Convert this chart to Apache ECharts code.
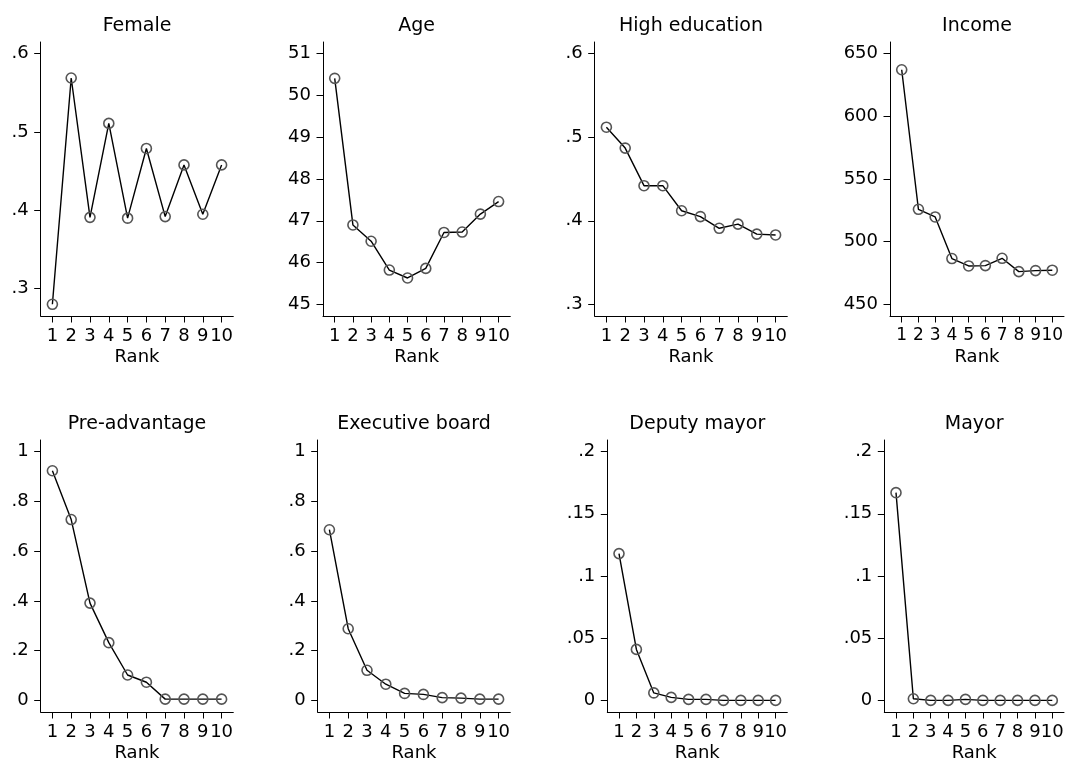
<!DOCTYPE html>
<html><head><meta charset="utf-8">
<script src="https://cdn.jsdelivr.net/npm/echarts@6/dist/echarts.min.js"></script>
<style>html,body{margin:0;padding:0;background:#fff}#c{width:1067px;height:763px}</style>
</head><body><div id="c"></div>
<script>
// ---- data ----
const titles = ['Female', 'Age', 'High education', 'Income', 'Pre-advantage', 'Executive board', 'Deputy mayor', 'Mayor'];
const ranks = [1, 2, 3, 4, 5, 6, 7, 8, 9, 10];
const xAxisTitle = 'Rank';

const female         = [0.280, 0.569, 0.391, 0.511, 0.390, 0.479, 0.392, 0.458, 0.395, 0.458];
const age            = [50.41, 46.90, 46.51, 45.82, 45.63, 45.86, 46.72, 46.73, 47.16, 47.46];
const highEducation  = [0.512, 0.487, 0.442, 0.442, 0.412, 0.405, 0.391, 0.396, 0.384, 0.383];
const income         = [637.2, 525.8, 519.7, 486.5, 480.6, 480.9, 486.7, 476.1, 476.9, 477.2];
const preAdvantage   = [0.923, 0.727, 0.391, 0.232, 0.102, 0.073, 0.005, 0.005, 0.005, 0.005];
const executiveBoard = [0.686, 0.288, 0.121, 0.065, 0.028, 0.024, 0.011, 0.009, 0.005, 0.005];
const deputyMayor    = [0.118, 0.041, 0.006, 0.0024, 0.0008, 0.0008, 0, 0, 0, 0];
const mayor          = [0.167, 0.0013, 0, 0, 0.0008, 0, 0, 0, 0, 0];

const femaleTicks         = [0.3, 0.4, 0.5, 0.6];
const ageTicks            = [45, 46, 47, 48, 49, 50, 51];
const highEducationTicks  = [0.3, 0.4, 0.5, 0.6];
const incomeTicks         = [450, 500, 550, 600, 650];
const preAdvantageTicks   = [0, 0.2, 0.4, 0.6, 0.8, 1];
const executiveBoardTicks = [0, 0.2, 0.4, 0.6, 0.8, 1];
const deputyMayorTicks    = [0, 0.05, 0.1, 0.15, 0.2];
const mayorTicks          = [0, 0.05, 0.1, 0.15, 0.2];

const seriesValues = [female, age, highEducation, income, preAdvantage, executiveBoard, deputyMayor, mayor];
const seriesTicks = [femaleTicks, ageTicks, highEducationTicks, incomeTicks, preAdvantageTicks, executiveBoardTicks, deputyMayorTicks, mayorTicks];

// ---- layout ----
const gridLeft  = [40.7, 323, 594.7, 890, 40.7, 317.7, 607.3, 884.3];
const gridRight = [233.3, 510.3, 787.3, 1064, 233.3, 510.3, 787.3, 1064];
const rowTop = [42, 440];
const plotH = 274;
const titleTop = [17, 415];
const PAD = 11.7; // plot-region margin in px
const FONT = 'DejaVu Sans';

const fmt = v => String(+v.toFixed(6)).replace(/^0\./, '.').replace(/^-0\./, '-.');

const option = { animation: false, backgroundColor: '#fff', title: [], grid: [], xAxis: [], yAxis: [], series: [] };

for (let i = 0; i < 8; i++) {
  const row = i < 4 ? 0 : 1;
  const L = gridLeft[i], W = gridRight[i] - gridLeft[i];
  const T = rowTop[row], H = plotH;
  const vals = seriesValues[i], ticks = seriesTicks[i];
  const lo = Math.min(...vals, ...ticks), hi = Math.max(...vals, ...ticks);
  const yPad = (hi - lo) * PAD / (H - 2 * PAD);
  const xLo = Math.min(...ranks), xHi = Math.max(...ranks);
  const xPad = (xHi - xLo) * PAD / (W - 2 * PAD);
  const step = (W - 2 * PAD) / (xHi - xLo);
  const xFont = step < 17.3 ? 17 : 18;

  option.title.push({
    text: titles[i], left: L + W / 2, top: titleTop[row], textAlign: 'center', padding: 0,
    textStyle: { fontFamily: FONT, fontSize: 19, fontWeight: 'normal', color: '#000' }
  });
  option.grid.push({ left: L, top: T, width: W, height: H, containLabel: false });
  option.xAxis.push({
    type: 'value', gridIndex: i, min: xLo - xPad, max: xHi + xPad,
    name: xAxisTitle, nameLocation: 'middle', nameGap: 32,
    nameTextStyle: { fontFamily: FONT, fontSize: 18, color: '#000' },
    axisLine: { show: true, onZero: false, lineStyle: { color: '#000', width: 1 } },
    axisTick: { show: true, customValues: ranks, length: 6.5, lineStyle: { color: '#000', width: 1 } },
    axisLabel: { show: true, customValues: ranks, hideOverlap: false, showMinLabel: true, showMaxLabel: true,
      fontFamily: FONT, fontSize: xFont, color: '#000', margin: 11, formatter: fmt },
    splitLine: { show: false }
  });
  option.yAxis.push({
    type: 'value', gridIndex: i, min: lo - yPad, max: hi + yPad,
    axisLine: { show: true, onZero: false, lineStyle: { color: '#000', width: 1 } },
    axisTick: { show: true, customValues: ticks, length: 6.5, lineStyle: { color: '#000', width: 1 } },
    axisLabel: { show: true, customValues: ticks, hideOverlap: false, showMinLabel: true, showMaxLabel: true,
      fontFamily: FONT, fontSize: 18, color: '#000', margin: 12, formatter: fmt },
    splitLine: { show: false }
  });
  option.series.push({
    type: 'line', xAxisIndex: i, yAxisIndex: i,
    data: ranks.map((r, j) => [r, vals[j]]),
    symbol: 'circle', symbolSize: 10, showAllSymbol: true, clip: false,
    itemStyle: { color: 'rgba(255,255,255,0)', borderColor: '#555', borderWidth: 1.6 },
    lineStyle: { color: '#000', width: 1.4 },
    emphasis: { disabled: true }, silent: true
  });
}

const chart = echarts.init(document.getElementById('c'), null, { renderer: 'canvas' });
chart.setOption(option);
</script>
</body></html>
